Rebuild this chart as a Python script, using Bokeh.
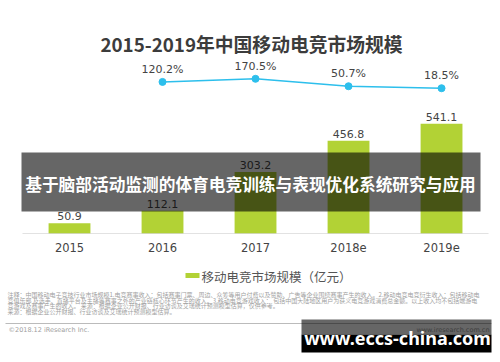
from bokeh.plotting import figure
from bokeh.models import Range1d, ColumnDataSource, LinearScale, Label, BoxAnnotation
from bokeh.core.properties import value
from bokeh.embed import file_html
from bokeh.resources import INLINE

# ---- data ----
categories = ["2015", "2016", "2017", "2018e", "2019e"]
market_size = [50.9, 112.1, 303.2, 456.8, 541.1]
growth_categories = ["2016", "2017", "2018e", "2019e"]
growth_rate = [120.2, 170.5, 50.7, 18.5]

title_text = "2015-2019年中国移动电竞市场规模"
legend_text = "移动电竞市场规模（亿元）"
overlay_text = "基于脑部活动监测的体育电竞训练与表现优化系统研究与应用"
watermark_text = "www.eccs-china.com"
note_lines = [
    "注释：中国移动电子竞技行业市场规模1.电竞赛事收入：包括赛事门票、周边、众筹等用户付费以及赞助、广告等企业围绕赛事产生的收入。2.移动电竞电竞衍生收入：包括移动电",
    "竞俱乐部 及选手、直播平台及主播等赛事之外的产业链核心环节产生的收入。3.移动电竞游戏收入： 包括中国大陆地区用户为获义电竞游戏消费总金额。以上收入均不包括端游电",
    "竞游戏及赛事产生的收入。 来源：根据企业公开财报、行业访谈及艾瑞统计预测模型估算，仅供参考。",
    "来源：根据企业公开财报、行业访谈及艾瑞统计预测模型估算。",
]
copyright_text = "©2018.12 iResearch Inc."
site_text = "www.iresearch.com.cn"

GREEN = "#b2d235"
CYAN = "#2dbfec"
CJK = "Noto Sans CJK SC"
LAT = "DejaVu Sans"

W, H = 492, 354

# category positions on a linear x scale
cat_pos = list(range(len(categories)))
growth_pos = [categories.index(c) for c in growth_categories]

p = figure(width=W, height=H, output_backend="svg", toolbar_location=None,
           x_range=Range1d(-0.742, 4.548), y_range=Range1d(-596, 1147.8),
           x_axis_location=None, y_axis_location=None, min_border=0)
p.outline_line_color = None
p.grid.visible = False
p.background_fill_color = "white"
p.border_fill_color = "white"

# helper vertical ranges: pixel rows (top-down) and growth rate scale
p.extra_y_ranges = {"pxy": Range1d(354, 0), "growth": Range1d(-4276, 1433.5)}
p.extra_y_scales = {"pxy": LinearScale(), "growth": LinearScale()}


def label(x, y, text, font=CJK, size="11px", color="#444444", style="normal",
          align="left", baseline="middle"):
    p.add_layout(Label(x=x, y=y, x_units="screen", y_units="data", y_range_name="pxy",
                       text=text, text_font=font, text_font_size=size, text_color=color,
                       text_font_style=style, text_align=align, text_baseline=baseline))


def box(left, right, top, bottom, color, alpha=1.0):
    p.add_layout(BoxAnnotation(left=left, right=right, top=top, bottom=bottom,
                               left_units="screen", right_units="screen",
                               top_units="data", bottom_units="data", y_range_name="pxy",
                               fill_color=color, fill_alpha=alpha, line_color=None,
                               level="annotation"))


# title
label(251, 43, title_text, size="18.8px", color="#3c3c3c", style="bold", align="center")

# axis baseline (at value 0)
p.add_layout(BoxAnnotation(left=22, right=488, top=0, bottom=0,
                           left_units="screen", right_units="screen",
                           fill_color=None, line_color="#c8c8c8", line_width=1))

# bars
src = ColumnDataSource(dict(x=cat_pos, top=market_size, cat=categories,
                            lab=[f"{v:.1f}" for v in market_size]))
p.vbar(x="x", top="top", bottom=0, width=0.45, source=src,
       fill_color=GREEN, line_color=None)
p.text(x="x", y="top", text="lab", source=src, text_font=value(LAT), text_font_size="11px",
       text_color="#444444", text_align="center", text_baseline="bottom", y_offset=-3)

# category labels
p.text(x="x", y=0, text="cat", source=src, y_offset=14,
       text_font=value(LAT), text_font_size="11.5px", text_color="#444444",
       text_align="center", text_baseline="middle")

# growth line
gsrc = ColumnDataSource(dict(x=growth_pos, y=growth_rate,
                             lab=[f"{g:.1f}%" for g in growth_rate]))
p.line(x="x", y="y", source=gsrc, y_range_name="growth", line_color=CYAN, line_width=1.6)
p.scatter(x="x", y="y", source=gsrc, y_range_name="growth", size=7,
          fill_color=CYAN, line_color=CYAN)
p.text(x="x", y="y", text="lab", source=gsrc, y_range_name="growth", y_offset=-6,
       text_font=value(LAT), text_font_size="11px", text_color="#444444",
       text_align="center", text_baseline="bottom")

# legend
box(185, 199, 272.5, 277.5, GREEN)
label(201, 275.5, legend_text, size="12.5px", color="#555555")

# notes
for ny, line in zip([294, 299.5, 305, 310.5], note_lines):
    label(7, ny, line, size="6px", color="#a0a0a0")
box(5, 491, 322.5, 323.5, "#bbbbbb")
label(8, 329, copyright_text, font=LAT, size="6.5px", color="#a0a0a0")
label(489, 329, site_text, font=LAT, size="6.5px", color="#a0a0a0", align="right")

# overlay band
box(21, 480, 152, 211, "black", 0.6)
label(250, 183, overlay_text, size="16.7px", color="white", style="bold", align="center")

# watermark box
box(301, 491, 319, 334, "black", 0.6)
box(301, 491, 334, 352, "black")
label(397, 337, watermark_text, font="Noto Sans", size="18px", color="white",
      style="bold", align="center")

open("out.html", "w").write(file_html(p, INLINE))
